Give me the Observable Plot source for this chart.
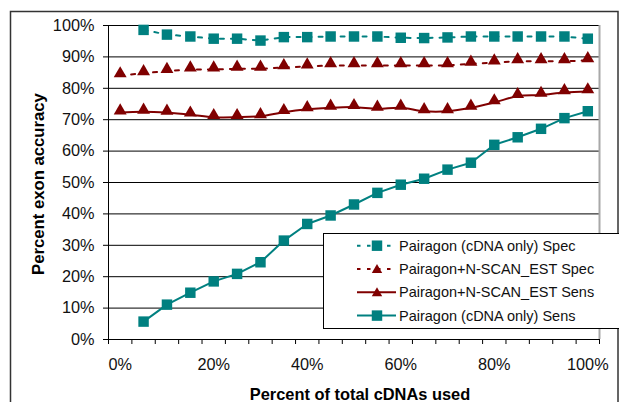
<!DOCTYPE html>
<html><head><meta charset="utf-8">
<script src="https://cdn.jsdelivr.net/npm/d3@7"></script>
<script src="https://cdn.jsdelivr.net/npm/@observablehq/plot@0.6"></script>
<style>
html,body{margin:0;padding:0;background:#fff;}
#chart{width:619px;height:402px;overflow:hidden;}
</style></head><body><div id="chart"></div>
<script>
// Categories: percent of total cDNAs used
const pctUsed = [0,5,10,15,20,25,30,35,40,45,50,55,60,65,70,75,80,85,90,95,100];
// Series values (percent exon accuracy); null = no point
const cdnaSpec  = [null,98.6,97.1,96.5,95.8,95.8,95.2,96.3,96.3,96.5,96.5,96.5,96.1,96.0,96.2,96.5,96.5,96.5,96.5,96.5,95.8];
const nscanSpec = [84.1,84.8,85.5,86.0,86.0,86.2,86.2,86.7,86.9,87.3,87.3,87.3,87.3,87.3,87.3,87.8,88.2,88.6,88.6,88.6,88.9];
const nscanSens = [72.3,72.5,72.2,71.6,70.8,70.8,71.1,72.4,73.3,73.8,74.0,73.5,73.8,72.7,72.7,73.8,75.5,77.5,77.9,78.7,79.0];
const cdnaSens  = [null,5.7,11.1,14.9,18.5,20.9,24.6,31.5,36.8,39.5,43.0,46.7,49.3,51.2,54.1,56.3,62.0,64.4,67.1,70.5,72.7];
const seriesNames = ["Pairagon (cDNA only) Spec","Pairagon+N-SCAN_EST Spec","Pairagon+N-SCAN_EST Sens","Pairagon (cDNA only) Sens"];
// Tick labels
const yTicks = [0,10,20,30,40,50,60,70,80,90,100];
const xLabelTicks = [0,20,40,60,80,100];
const xTitle = "Percent of total cDNAs used";
const yTitle = "Percent exon accuracy";

const font = '"Liberation Sans", Arial, Helvetica, sans-serif';
const teal = "#008080", maroon = "#800000";
const half = (pctUsed[1]-pctUsed[0])/2;
const edges = pctUsed.map(d => d - half).concat([pctUsed[pctUsed.length-1] + half]);
const rows = s => pctUsed.map((x,i) => ({x, y: s[i]})).filter(d => d.y != null);

const styles = [
  {data: cdnaSpec,  color: teal,   dash: "4,7", symbol: "square",   r: 5.9, curve: "linear"},
  {data: nscanSpec, color: maroon, dash: "4,7", symbol: "triangle", r: 4.8, curve: "linear"},
  {data: nscanSens, color: maroon, dash: null,  symbol: "triangle", r: 4.8, curve: "catmull-rom"},
  {data: cdnaSens,  color: teal,   dash: null,  symbol: "square",   r: 5.9, curve: "linear"}
];

const seriesMarks = styles.flatMap(s => [
  Plot.line(rows(s.data), {x: "x", y: "y", stroke: s.color, strokeWidth: 2, strokeDasharray: s.dash || undefined, curve: s.curve}),
  Plot.dot(rows(s.data), {x: "x", y: "y", symbol: s.symbol, r: s.r, fill: s.color, stroke: "none", dy: s.symbol === "triangle" ? -1.8 : 0})
]);

const chart = Plot.plot({
  width: 619, height: 402,
  marginLeft: 108, marginRight: 20, marginTop: 25, marginBottom: 63,
  style: {fontFamily: font, fontSize: "16.3px", color: "#000", background: "#fff", overflow: "visible"},
  x: {type: "linear", domain: [edges[0], edges[edges.length-1]]},
  y: {domain: [0, 100]},
  marks: [
    Plot.ruleY(yTicks.filter(d => d > 0), {stroke: "#000", strokeWidth: 1}),
    Plot.ruleX([edges[edges.length-1]], {stroke: "#a8a8a8", strokeWidth: 2}),
    Plot.ruleX([edges[0]], {stroke: "#000", strokeWidth: 1}),
    Plot.ruleY([0], {stroke: "#000", strokeWidth: 1}),
    Plot.axisY(yTicks, {tickFormat: d => d + "%", tickSize: 5, tickPadding: 9, label: null, fill: "#111"}),
    Plot.axisX(xLabelTicks, {tickFormat: d => d + "%", tickSize: 0, tickPadding: 19, label: null, fill: "#111"}),
    Plot.axisX(edges, {tickFormat: () => "", tickSize: 5, label: null}),
    ...seriesMarks
  ]
});
document.getElementById("chart").appendChild(chart);

const svg = d3.select(chart);
// outer chart border
svg.append("rect").attr("x", 10.5).attr("y", 11.5).attr("width", 607.5).attr("height", 400)
  .attr("fill", "none").attr("stroke", "#333").attr("stroke-width", 1.5);
// axis titles
svg.append("text").attr("transform", "translate(44,184) rotate(-90)")
  .attr("text-anchor", "middle").attr("font-family", font).attr("font-weight", "bold")
  .attr("font-size", "16.7px").attr("fill", "#000").text(yTitle);
svg.append("text").attr("x", 360).attr("y", 400)
  .attr("text-anchor", "middle").attr("font-family", font).attr("font-weight", "bold")
  .attr("font-size", "16.4px").attr("fill", "#000").text(xTitle);

// legend
const lg = svg.append("g");
lg.append("rect").attr("x", 323.5).attr("y", 233.5).attr("width", 310).attr("height", 95)
  .attr("fill", "#fff").attr("stroke", "#000").attr("stroke-width", 1);
const sym = {square: d3.symbolSquare, triangle: d3.symbolTriangle};
styles.forEach((s, i) => {
  const cy = 245.7 + 23.3 * i;
  const g = lg.append("g");
  g.append("line").attr("x1", 357).attr("x2", s.dash ? 392 : 396).attr("y1", cy).attr("y2", cy)
    .attr("stroke", s.color).attr("stroke-width", 2).attr("stroke-dasharray", s.dash ? "3.5,6.5" : null);
  g.append("path").attr("transform", `translate(377,${cy + (s.symbol === "triangle" ? 1 : 0)})`)
    .attr("d", d3.symbol(sym[s.symbol], Math.PI * s.r * s.r * (s.symbol === "triangle" ? 0.65 : 1))())
    .attr("fill", s.color);
  g.append("text").attr("x", 399).attr("y", cy).attr("dy", "0.35em").attr("text-anchor", "start")
    .attr("font-family", font).attr("font-size", "14.5px").attr("fill", "#111").text(seriesNames[i]);
});
</script></body></html>
